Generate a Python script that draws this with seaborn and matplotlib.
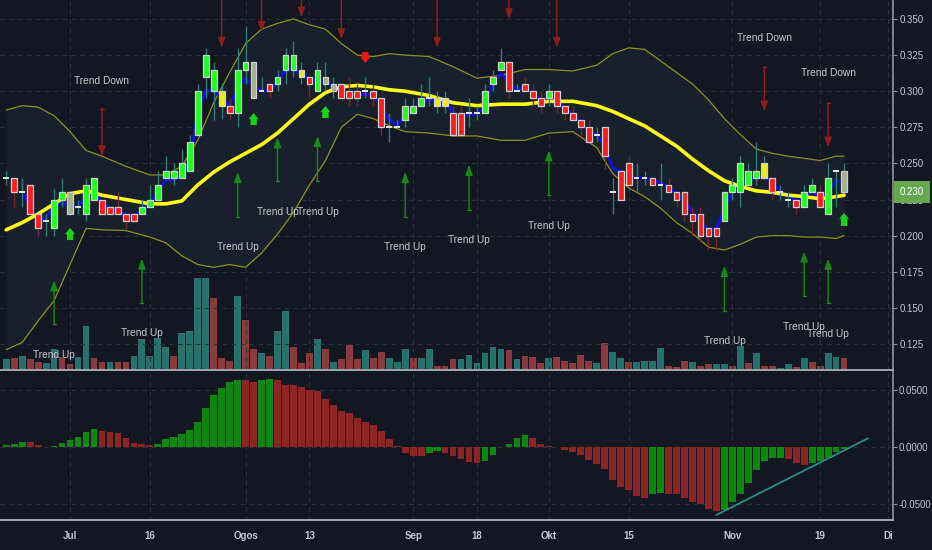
import matplotlib
matplotlib.use("Agg")
import matplotlib.pyplot as plt
import matplotlib.transforms as mtransforms
import seaborn as sns

####################################################################################
## DATA  (one candle per trading day, bar index 0..105)
####################################################################################
opens = [
    0.240, 0.240, 0.230, 0.235, 0.215, 0.210, 0.205, 0.225, 0.230, 0.220,
    0.215, 0.225, 0.225, 0.220, 0.220, 0.215, 0.215, 0.215, 0.220, 0.225,
    0.240, 0.240, 0.240, 0.245, 0.270, 0.310, 0.300, 0.300, 0.290, 0.285,
    0.315, 0.320, 0.300, 0.305, 0.305, 0.315, 0.315, 0.315, 0.310, 0.300,
    0.305, 0.300, 0.305, 0.300, 0.300, 0.300, 0.300, 0.295, 0.275, 0.275,
    0.280, 0.285, 0.290, 0.295, 0.290, 0.290, 0.285, 0.285, 0.285, 0.285,
    0.285, 0.305, 0.315, 0.320, 0.300, 0.305, 0.300, 0.295, 0.295, 0.300,
    0.290, 0.285, 0.280, 0.275, 0.270, 0.275, 0.230, 0.245, 0.250, 0.240,
    0.240, 0.240, 0.235, 0.235, 0.230, 0.230, 0.215, 0.215, 0.205, 0.205,
    0.210, 0.230, 0.230, 0.235, 0.240, 0.240, 0.240, 0.230, 0.225, 0.225,
    0.220, 0.230, 0.230, 0.215, 0.245, 0.245]
closes = [
    0.240, 0.230, 0.230, 0.215, 0.205, 0.210, 0.225, 0.230, 0.215, 0.220,
    0.235, 0.240, 0.215, 0.215, 0.215, 0.210, 0.210, 0.220, 0.225, 0.235,
    0.245, 0.245, 0.250, 0.265, 0.300, 0.325, 0.315, 0.290, 0.285, 0.315,
    0.320, 0.295, 0.300, 0.300, 0.310, 0.325, 0.325, 0.310, 0.305, 0.315,
    0.310, 0.305, 0.295, 0.295, 0.295, 0.300, 0.295, 0.275, 0.275, 0.275,
    0.290, 0.290, 0.295, 0.295, 0.295, 0.295, 0.270, 0.270, 0.285, 0.285,
    0.300, 0.310, 0.320, 0.300, 0.300, 0.300, 0.295, 0.290, 0.300, 0.290,
    0.285, 0.280, 0.275, 0.265, 0.270, 0.255, 0.230, 0.225, 0.235, 0.240,
    0.240, 0.235, 0.235, 0.230, 0.225, 0.215, 0.210, 0.200, 0.200, 0.200,
    0.230, 0.235, 0.250, 0.245, 0.245, 0.250, 0.230, 0.230, 0.225, 0.220,
    0.230, 0.235, 0.220, 0.240, 0.245, 0.230]
highs = [
    0.245, 0.240, 0.240, 0.235, 0.215, 0.215, 0.232, 0.240, 0.230, 0.225,
    0.240, 0.240, 0.225, 0.220, 0.230, 0.215, 0.215, 0.225, 0.235, 0.245,
    0.255, 0.250, 0.260, 0.270, 0.305, 0.330, 0.320, 0.305, 0.295, 0.330,
    0.345, 0.320, 0.310, 0.305, 0.315, 0.330, 0.335, 0.320, 0.310, 0.320,
    0.320, 0.310, 0.305, 0.310, 0.305, 0.310, 0.305, 0.295, 0.285, 0.280,
    0.295, 0.295, 0.305, 0.310, 0.300, 0.300, 0.290, 0.290, 0.295, 0.290,
    0.305, 0.315, 0.330, 0.320, 0.305, 0.310, 0.305, 0.300, 0.305, 0.300,
    0.290, 0.290, 0.280, 0.280, 0.275, 0.275, 0.240, 0.245, 0.255, 0.250,
    0.245, 0.240, 0.250, 0.240, 0.230, 0.230, 0.220, 0.220, 0.205, 0.205,
    0.230, 0.240, 0.255, 0.250, 0.265, 0.255, 0.240, 0.235, 0.230, 0.225,
    0.235, 0.240, 0.235, 0.250, 0.245, 0.250]
lows = [
    0.235, 0.220, 0.220, 0.215, 0.200, 0.200, 0.200, 0.220, 0.215, 0.215,
    0.210, 0.225, 0.215, 0.215, 0.215, 0.205, 0.210, 0.215, 0.220, 0.225,
    0.240, 0.235, 0.240, 0.245, 0.270, 0.295, 0.280, 0.281, 0.280, 0.275,
    0.305, 0.295, 0.300, 0.295, 0.300, 0.305, 0.310, 0.305, 0.296, 0.300,
    0.300, 0.295, 0.295, 0.290, 0.290, 0.295, 0.290, 0.270, 0.265, 0.275,
    0.275, 0.285, 0.290, 0.290, 0.285, 0.285, 0.270, 0.270, 0.275, 0.280,
    0.285, 0.300, 0.315, 0.295, 0.300, 0.300, 0.290, 0.285, 0.290, 0.285,
    0.280, 0.280, 0.270, 0.265, 0.265, 0.246, 0.215, 0.225, 0.235, 0.230,
    0.235, 0.235, 0.225, 0.230, 0.220, 0.210, 0.200, 0.196, 0.190, 0.190,
    0.210, 0.225, 0.220, 0.235, 0.235, 0.240, 0.225, 0.225, 0.220, 0.215,
    0.220, 0.230, 0.220, 0.215, 0.220, 0.230]
# body colour code: G green, R red, Y yellow, S grey, D doji dash
candle_kind = ("DRDRRDGGSD" "GGRRRRRGGG" "GGGGGGGYRG" "GSDRGGGYRG"
               "SSRRRDRRDD" "GGGDYYRRDD" "GGGRDRRRGR" "RRRRDRDRRD"
               "DRDRRRRRRR" "GGGGGYRDDR" "GGRGDS")

# volume (x100k shares) and colour T teal / R red
volume = [
    0.97, 1.07, 1.33, 0.97, 0.73, 0.57, 2.00, 1.17, 0.47, 1.17,
    4.30, 1.07, 0.73, 0.73, 0.73, 0.73, 1.33, 3.00, 1.33, 3.07,
    2.23, 1.33, 3.57, 3.83, 9.10, 9.10, 7.07, 1.07, 0.83, 7.30,
    4.90, 2.00, 1.57, 1.30, 3.83, 5.83, 2.17, 0.57, 1.57, 2.97,
    2.00, 0.73, 0.97, 2.40, 0.97, 1.90, 1.07, 1.67, 1.07, 0.73,
    2.00, 1.07, 1.07, 2.00, 0.33, 0.33, 0.97, 0.97, 1.40, 0.63,
    1.57, 2.23, 2.00, 1.90, 0.97, 1.30, 1.17, 0.57, 1.07, 1.17,
    0.83, 0.57, 1.40, 0.83, 0.57, 2.63, 1.67, 1.07, 0.73, 0.73,
    0.83, 0.83, 2.13, 0.33, 0.23, 0.83, 0.67, 0.33, 0.47, 0.47,
    0.47, 0.33, 2.30, 0.57, 1.63, 0.33, 0.33, 0.13, 0.47, 0.23,
    1.07, 0.67, 0.33, 1.57, 1.17, 1.07]
volume_kind = ("TRTRRTTRRT" "TRRTRRTTTT" "TRTTTTRRRT" "RRTRTTRRRT"
               "RTRRRTRRTT" "TRTTRRRTTT" "TTTRTRRRTR" "RRRRTRTTRT"
               "TTTRRRTRRT" "TRTRTRRTTR" "TRRTTR")

# histogram of the lower panel, colour G / R
macd_hist = [
    0.0017, 0.0029, 0.0046, 0.0046, 0.0015, 0.0003, 0.0006, 0.0035, 0.0064, 0.0090,
    0.0130, 0.0160, 0.0140, 0.0128, 0.0119, 0.0075, 0.0035, 0.0023, 0.0015, 0.0026,
    0.0067, 0.0090, 0.0110, 0.0150, 0.0220, 0.0340, 0.0450, 0.0516, 0.0566, 0.0580,
    0.0580, 0.0566, 0.0580, 0.0589, 0.0580, 0.0537, 0.0537, 0.0525, 0.0500, 0.0487,
    0.0420, 0.0365, 0.0313, 0.0293, 0.0255, 0.0220, 0.0190, 0.0140, 0.0067, 0.0006,
    -0.0049, -0.0078, -0.0078, -0.0049, -0.0035, -0.0049, -0.0078, -0.0107, -0.0128, -0.0142,
    -0.0125, -0.0072, 0.0002, 0.0029, 0.0081, 0.0101, 0.0081, 0.0029, 0.0009, 0.0002,
    -0.0029, -0.0043, -0.0072, -0.0116, -0.0145, -0.0188, -0.0284, -0.0348, -0.0377, -0.0426,
    -0.0440, -0.0406, -0.0397, -0.0406, -0.0406, -0.0440, -0.0478, -0.0493, -0.0542, -0.0560,
    -0.0545, -0.0478, -0.0406, -0.0310, -0.0197, -0.0125, -0.0096, -0.0096, -0.0107, -0.0136,
    -0.0154, -0.0136, -0.0125, -0.0096, -0.0043, -0.0020]
macd_kind = ("GGGRRRGGGG" "GGRRRRRRRG" "GGGGGGGGGG" "RRGGRRRRRR"
             "RRRRRRRRRR" "RRRGGRRRRR" "GGGGGGRRRR" "RRRRRRRRRR"
             "RGGRRRRRRR" "GGGGGGGGRR" "RGGGGG")
trend_x = [89.0, 108.0]
trend_y = [-0.0591, 0.0076]

# bollinger bands / 20-day average
band_idx = [0, 2, 4, 6, 8, 10, 12, 15, 18, 20, 22, 24, 26, 28, 30, 32, 34, 36, 38, 40,
            42, 44, 46, 48, 50, 53, 56, 59, 62, 65, 68, 71, 74, 76, 78, 80, 82, 84, 86, 88,
            90, 92, 94, 96, 98, 100, 102, 104, 105]
band_upper = [0.287, 0.290, 0.289, 0.283, 0.272, 0.259, 0.255, 0.248, 0.242, 0.242,
              0.248, 0.266, 0.292, 0.313, 0.333, 0.343, 0.347, 0.350, 0.346, 0.343,
              0.333, 0.325, 0.324, 0.326, 0.325, 0.324, 0.317, 0.309, 0.311, 0.315,
              0.315, 0.314, 0.318, 0.326, 0.330, 0.329, 0.321, 0.313, 0.305, 0.294,
              0.281, 0.270, 0.260, 0.257, 0.255, 0.2535, 0.252, 0.255, 0.255]
band_mid = [0.204, 0.209, 0.215, 0.222, 0.229, 0.231, 0.228, 0.225, 0.222, 0.222,
            0.224, 0.235, 0.244, 0.251, 0.257, 0.263, 0.271, 0.281, 0.291, 0.299,
            0.303, 0.304, 0.303, 0.301, 0.300, 0.297, 0.292, 0.290, 0.291, 0.291,
            0.293, 0.293, 0.290, 0.286, 0.281, 0.276, 0.269, 0.262, 0.253, 0.245,
            0.238, 0.234, 0.231, 0.230, 0.228, 0.227, 0.2255, 0.227, 0.228]
band_lower = [0.121, 0.126, 0.141, 0.155, 0.180, 0.205, 0.204, 0.2035, 0.199, 0.195,
              0.186, 0.180, 0.178, 0.180, 0.178, 0.188, 0.201, 0.216, 0.235, 0.252,
              0.275, 0.284, 0.281, 0.276, 0.272, 0.271, 0.269, 0.269, 0.266, 0.266,
              0.271, 0.272, 0.261, 0.243, 0.233, 0.227, 0.219, 0.209, 0.2015, 0.192,
              0.190, 0.194, 0.199, 0.200, 0.200, 0.199, 0.199, 0.198, 0.200]

# fast line (blue), from bar 2
fast_line = [
    0.231, 0.219, 0.210, 0.212, 0.221, 0.223, 0.220, 0.220, 0.227, 0.232,
    0.222, 0.219, 0.217, 0.2145, 0.214, 0.2165, 0.222, 0.2305, 0.2385, 0.2385,
    0.242, 0.251, 0.285, 0.301, 0.300, 0.296, 0.290, 0.302, 0.309, 0.304,
    0.300, 0.301, 0.306, 0.315, 0.315, 0.312, 0.308, 0.307, 0.307, 0.303,
    0.300, 0.297, 0.297, 0.298, 0.2975, 0.289, 0.280, 0.2765, 0.2835, 0.287,
    0.292, 0.294, 0.294, 0.294, 0.285, 0.283, 0.284, 0.2845, 0.290, 0.3055,
    0.3125, 0.3055, 0.3015, 0.302, 0.2985, 0.294, 0.296, 0.294, 0.288, 0.284,
    0.279, 0.272, 0.270, 0.2615, 0.247, 0.2445, 0.242, 0.240, 0.240, 0.2385,
    0.2365, 0.233, 0.2295, 0.2235, 0.2165, 0.209, 0.204, 0.205, 0.219, 0.2295,
    0.2375, 0.2385, 0.240, 0.241, 0.2365, 0.2315, 0.2275, 0.2235, 0.227, 0.2305,
    0.226, 0.2295, 0.2385, 0.2365]
fast_idx = list(range(2, 106))

# signals
down_arrow_bar = [12, 27, 32, 37, 42, 54, 63, 69, 95, 103]
down_arrow_from = [0.288, 0.364, 0.364, 0.364, 0.364, 0.364, 0.364, 0.364, 0.317, 0.292]
down_arrow_to = [0.255, 0.330, 0.341, 0.351, 0.336, 0.330, 0.350, 0.330, 0.286, 0.261]
up_arrow_bar = [6, 17, 29, 34, 39, 50, 58, 68, 90, 100, 103]
up_arrow_from = [0.139, 0.153, 0.213, 0.238, 0.238, 0.213, 0.218, 0.228, 0.148, 0.158, 0.153]
up_arrow_to = [0.169, 0.184, 0.244, 0.268, 0.269, 0.244, 0.249, 0.259, 0.179, 0.189, 0.184]
buy_mark_bar = [8, 31, 40, 105]
buy_mark_base = [0.1969, 0.2766, 0.2814, 0.2067]
buy_mark_tip = [0.2053, 0.2849, 0.2898, 0.2157]
sell_mark_bar = [45]
sell_mark_base = [0.3271]
sell_mark_tip = [0.3195]
up_text_bar = [6, 17, 29, 34, 39, 50, 58, 68, 90, 100, 103]
up_text_price = [0.1173, 0.1325, 0.192, 0.2166, 0.2166, 0.192, 0.197, 0.2066, 0.1272, 0.1369, 0.1318]
down_text_bar = [12, 95, 103]
down_text_price = [0.3073, 0.337, 0.3124]

tick_pos = [8, 18, 30, 38, 51, 59, 68, 78, 91, 102, 110.5]
tick_labels = ["Jul", "16", "Ogos", "13", "Sep", "18", "Okt", "15", "Nov", "19", "Di"]
price_ticks = [0.125, 0.150, 0.175, 0.200, 0.225, 0.250, 0.275, 0.300, 0.325, 0.350]
macd_ticks = [0.05, 0.0, -0.05]
last_price = 0.230

####################################################################################
## STYLE
####################################################################################
BG = "#131722"
GRID = "#2c303b"
AXIS = "#8a8d96"
LABEL = "#c3c6ce"
TXT = "#c9c9c9"

sns.set_theme(style="dark", rc={"axes.facecolor": BG, "figure.facecolor": BG,
                                "savefig.facecolor": BG, "axes.edgecolor": AXIS})
plt.rcParams["font.family"] = ["Liberation Sans", "DejaVu Sans"]

body_col = {"G": "#22ff22", "R": "#ff1c1c", "Y": "#ecec1c", "S": "#a2b28c", "D": "#e0e0e0"}
vol_col = {"T": "#26706e", "R": "#8a3a3b"}
hist_col = {"G": "#0e870e", "R": "#8c2424"}

fig = plt.figure(figsize=(9.32, 5.5), dpi=100)
ax = fig.add_axes([0, 180 / 550, 893 / 932, 370 / 550])
ax2 = fig.add_axes([0, 30 / 550, 893 / 932, 150 / 550], sharex=ax)

# volume on its own scale, drawn underneath the price panel
axv = ax.twinx()
ax.set_zorder(axv.get_zorder() + 1)
ax.patch.set_visible(False)
idx = list(range(len(closes)))
axv.bar(idx, volume, width=0.85, color=[vol_col[k] for k in volume_kind], lw=0)
axv.set_ylim(-0.1, 36.9)
axv.set_yticks([])
for s in axv.spines.values():
    s.set_visible(False)

####################################################################################
## PRICE PANEL
####################################################################################
ax.fill_between(band_idx, band_lower, band_upper, color="#18212b", lw=0, zorder=1)
sns.lineplot(x=band_idx, y=band_upper, ax=ax, color="#8f8f20", lw=0.9, zorder=2)
sns.lineplot(x=band_idx, y=band_lower, ax=ax, color="#8f8f20", lw=0.9, zorder=2)
sns.lineplot(x=fast_idx, y=fast_line, ax=ax, color="#0d0dff", lw=1.9, zorder=3)
sns.lineplot(x=band_idx, y=band_mid, ax=ax, color="#ffff14", lw=2.6, zorder=4)

wick_cols = ["#7c2626" if k == "R" else "#2c7c7a" for k in candle_kind]
ax.vlines(idx, lows, highs, colors=wick_cols, lw=1.0, zorder=5)
bottoms = [min(o, c) for o, c in zip(opens, closes)]
heights = [abs(c - o) for o, c in zip(opens, closes)]
ax.bar(idx, heights, bottom=bottoms, width=0.72,
       color=[body_col[k] for k in candle_kind],
       edgecolor=["#e6e6e6" if k == "D" else "#cfcfcf" for k in candle_kind],
       linewidth=[1.4 if k == "D" else 0.9 for k in candle_kind], zorder=6)

for b, s, e in zip(down_arrow_bar, down_arrow_from, down_arrow_to):
    ax.annotate("", xy=(b, e), xytext=(b, s), zorder=7,
                arrowprops=dict(arrowstyle="-|>,head_length=0.5,head_width=0.18",
                                color="#8e1d1d", lw=1.0, shrinkA=0, shrinkB=0))
    ax.plot([b - 0.2, b + 0.2], [s, s], color="#8e1d1d", lw=1, zorder=7)
for b, s, e in zip(up_arrow_bar, up_arrow_from, up_arrow_to):
    ax.annotate("", xy=(b, e), xytext=(b, s), zorder=7,
                arrowprops=dict(arrowstyle="-|>,head_length=0.5,head_width=0.18",
                                color="#138c13", lw=1.0, shrinkA=0, shrinkB=0))
    ax.plot([b - 0.2, b + 0.2], [s, s], color="#138c13", lw=1, zorder=7)
for b, s, e in zip(buy_mark_bar, buy_mark_base, buy_mark_tip):
    ax.annotate("", xy=(b, e), xytext=(b, s), zorder=8,
                arrowprops=dict(arrowstyle="simple,head_length=0.5,head_width=0.8,tail_width=0.5",
                                fc="#19d419", ec="none", mutation_scale=9, shrinkA=0, shrinkB=0))
for b, s, e in zip(sell_mark_bar, sell_mark_base, sell_mark_tip):
    ax.annotate("", xy=(b, e), xytext=(b, s), zorder=8,
                arrowprops=dict(arrowstyle="simple,head_length=0.5,head_width=0.8,tail_width=0.5",
                                fc="#ee1515", ec="none", mutation_scale=9, shrinkA=0, shrinkB=0))

for b, p in zip(up_text_bar, up_text_price):
    ax.text(b, p, "Trend Up", color=TXT, fontsize=7.3, ha="center", va="center", zorder=9)
for b, p in zip(down_text_bar, down_text_price):
    ax.text(b, p, "Trend Down", color=TXT, fontsize=7.3, ha="center", va="center", zorder=9)

ax.set_xlim(-0.78, 111.13)
ax.set_ylim(0.10693, 0.36316)
ax.yaxis.tick_right()
ax.set_yticks(price_ticks)
ax.set_yticklabels([f"{t:.3f}" for t in price_ticks])
ax.set_xticks(tick_pos)
ax.tick_params(axis="x", labelbottom=False, length=0)
ax.tick_params(axis="y", colors=AXIS, labelcolor=LABEL, labelsize=7, length=3, width=0.8, pad=2)
ax.grid(True, color=GRID, linestyle=(0, (4, 4)), linewidth=0.8)
ax.set_axisbelow(True)
for side in ["top", "left"]:
    ax.spines[side].set_visible(False)
ax.spines["right"].set_color(AXIS)
ax.spines["bottom"].set_color("#a3a6ae")
ax.spines["bottom"].set_linewidth(1.4)

# last price tag
blend = mtransforms.blended_transform_factory(ax.transAxes, ax.transData)
ax.text(1.0078, last_price, f"{last_price:.3f}", transform=blend, color="white",
        fontsize=7, ha="left", va="center", clip_on=False, zorder=20,
        bbox=dict(boxstyle="square,pad=0.6", fc="#66a84f", ec="none"))

####################################################################################
## LOWER PANEL
####################################################################################
ax2.bar(idx, macd_hist, width=0.85, color=[hist_col[k] for k in macd_kind], lw=0, zorder=2)
sns.lineplot(x=trend_x, y=trend_y, ax=ax2, color="#2a8c88", lw=1.3, zorder=3)
ax2.set_ylim(-0.0635, 0.0670)
ax2.yaxis.tick_right()
ax2.set_yticks(macd_ticks)
ax2.set_yticklabels([f"{t:.4f}" for t in macd_ticks])
ax2.set_xticks(tick_pos)
ax2.set_xticklabels(tick_labels)
ax2.tick_params(axis="y", colors=AXIS, labelcolor=LABEL, labelsize=7, length=3, width=0.8, pad=1)
ax2.tick_params(axis="x", colors=AXIS, labelcolor=LABEL, labelsize=7, length=3, width=0.8, pad=5)
for lab in ax2.get_xticklabels():
    lab.set_fontweight("bold")
ax2.grid(True, color=GRID, linestyle=(0, (4, 4)), linewidth=0.8)
ax2.set_axisbelow(True)
for side in ["top", "left"]:
    ax2.spines[side].set_visible(False)
ax2.spines["right"].set_color(AXIS)
ax2.spines["bottom"].set_color("#a3a6ae")
ax2.spines["bottom"].set_linewidth(1.4)
ax2.set_xlim(-0.78, 111.13)

fig.savefig("out.png", dpi=100, facecolor=BG)
